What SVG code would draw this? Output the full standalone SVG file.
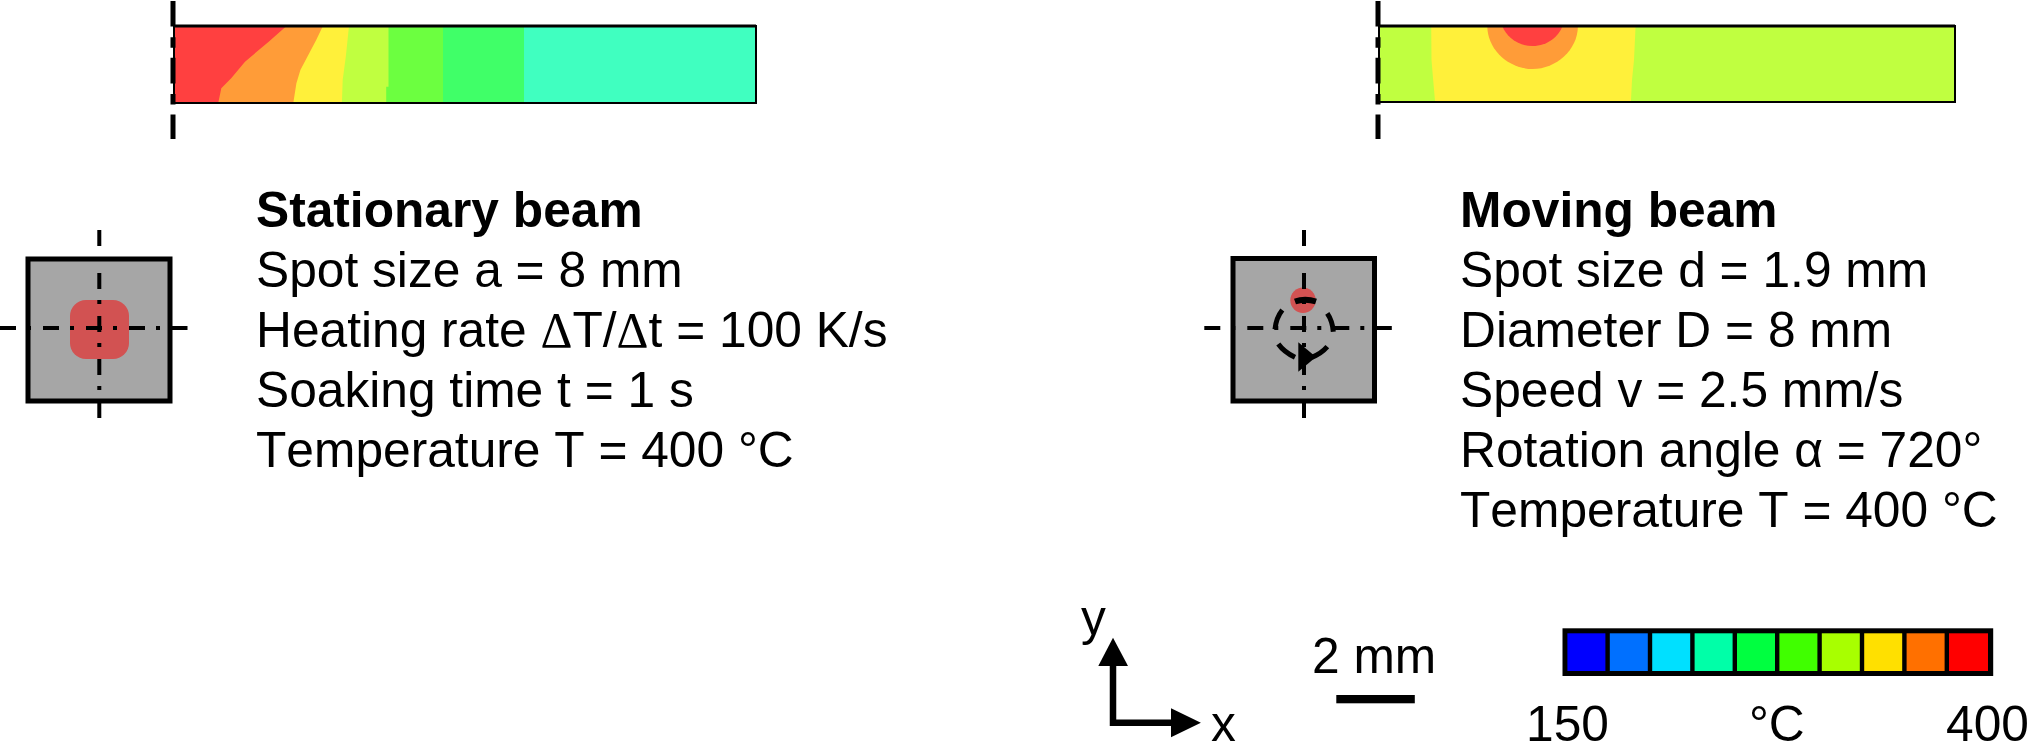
<svg xmlns="http://www.w3.org/2000/svg" width="2029" height="743" viewBox="0 0 2029 743">
<style>
text{font-family:"Liberation Sans",Arial,sans-serif;font-size:49.700px;font-kerning:none;fill:#000}
.b{font-weight:bold}
.d{font-family:"Liberation Serif","Times New Roman",serif}
.cl{fill:none;stroke:#000;stroke-width:4;stroke-dasharray:16 11 4 12}
.sym{fill:none;stroke:#000;stroke-width:5;stroke-dasharray:25.6 10.6 10.6 10}
.frame{fill:none;stroke:#000;stroke-width:2}
.sq{fill:#a6a6a6;stroke:#000;stroke-width:5}
.spot{fill:#d25252}
.arc{fill:none;stroke:#000;stroke-width:5}
.axis{fill:none;stroke:#000;stroke-width:6.5}
</style>
<rect width="2029" height="743" fill="#fff"/>
<g id="field-stationary">
<rect x="174" y="26" width="582" height="77" fill="#40ffc0"/>
<rect x="174" y="26" width="350" height="77" fill="#40ff68"/>
<rect x="174" y="26" width="269" height="77" fill="#6cff40"/>
<path d="M174 26H388.5V86.7H386.2V103H174Z" fill="#c0ff40"/>
<path d="M174 26H349L345.8 56.7L342.7 80L341.9 103H174Z" fill="#fff03a"/>
<path d="M174 26H322.9L316.2 40L308.3 55L300.4 70L296.4 83.3L293.3 103H174Z" fill="#ff9c38"/>
<path d="M174 26H286.5L268.7 41.7L245 61.7L231.2 78.3L221.3 88.3L218.5 101.7L217 103H174Z" fill="#ff4040"/>
<rect class="frame" x="174" y="26" width="582" height="77"/>
<path d="M174 26H756" fill="none" stroke="#000" stroke-width="3"/>
<path class="sym" d="M173 1V139"/>
</g>
<g id="field-moving">
<rect x="1379" y="26" width="576" height="76" fill="#c0ff40"/>
<path d="M1431.2 26H1635.6L1634 60L1632 80L1630.9 102H1435.1L1433 78L1431.5 60Z" fill="#fff03a"/>
<path d="M1487.3 26H1577.9C1577.9 50 1556 69 1532.6 69C1509 69 1487.3 50 1487.3 26Z" fill="#ff9c38"/>
<path d="M1502.3 26H1562.5C1559 36 1548 46 1532.4 46C1517 46 1506 36 1502.3 26Z" fill="#ff4040"/>
<rect class="frame" x="1379" y="26" width="576" height="76"/>
<path d="M1379 26H1955" fill="none" stroke="#000" stroke-width="3"/>
<path class="sym" d="M1378 1V139"/>
</g>
<g id="spot-stationary">
<rect class="sq" x="28" y="259" width="142" height="142"/>
<rect class="spot" x="70" y="300" width="59" height="59" rx="16"/>
<path class="cl" d="M99.3 230V418"/>
<path class="cl" d="M0 328H187.5"/>
</g>
<g id="spot-moving">
<rect class="sq" x="1233" y="258.500" width="141.500" height="142.500"/>
<circle class="spot" cx="1303" cy="300.300" r="12.700"/>
<path class="cl" d="M1304 230V418"/>
<path class="cl" d="M1204.300 328H1391.800"/>
<path class="arc" d="M1282.300 310Q1276 318 1275 329.300"/>
<path class="arc" d="M1327.300 313.300Q1332.500 321 1333.300 331.700"/>
<path class="arc" d="M1278.300 344Q1284 352 1295 357.300"/>
<path class="arc" d="M1311.700 357.300Q1321 354 1327.300 346.700"/>
<path d="M1295 301.500Q1305 298 1316 301.500" fill="none" stroke="#000" stroke-width="6"/>
<path d="M1298.300 342.300V371.700L1316 357Z" fill="#000"/>
</g>
<g id="text-stationary">
<text class="b" x="256" y="227">Stationary beam</text>
<text x="256" y="287">Spot size a = 8 mm</text>
<text x="256" y="347">Heating rate <tspan class="d">Δ</tspan>T/<tspan class="d">Δ</tspan>t = 100 K/s</text>
<text x="256" y="407">Soaking time t = 1 s</text>
<text x="256" y="467">Temperature T = 400 °C</text>
</g>
<g id="text-moving">
<text class="b" x="1460" y="227">Moving beam</text>
<text x="1460" y="287">Spot size d = 1.9 mm</text>
<text x="1460" y="347">Diameter D = 8 mm</text>
<text x="1460" y="407">Speed v = 2.5 mm/s</text>
<text x="1460" y="467">Rotation angle α = 720°</text>
<text x="1460" y="527">Temperature T = 400 °C</text>
</g>
<g id="axes">
<path class="axis" d="M1113 666V722.700H1172"/>
<path d="M1113 637.700L1128 666H1098.300Z" fill="#000"/>
<path d="M1200.900 722.700L1171 737.300V708.300Z" fill="#000"/>
<text x="1081" y="635">y</text>
<text x="1211" y="741">x</text>
</g>
<g id="scale">
<text x="1312" y="673">2 mm</text>
<rect x="1336.300" y="695" width="78.500" height="8.300" fill="#000"/>
</g>
<g id="legend">
<rect x="1562.500" y="628.300" width="430.700" height="47.700" fill="#000"/>
<rect x="1567.400" y="633.300" width="38" height="37.700" fill="#0000ff"/>
<rect x="1609.800" y="633.300" width="38" height="37.700" fill="#0070ff"/>
<rect x="1652.200" y="633.300" width="38" height="37.700" fill="#00e0ff"/>
<rect x="1694.600" y="633.300" width="38" height="37.700" fill="#00ffa8"/>
<rect x="1737" y="633.300" width="38" height="37.700" fill="#00ff40"/>
<rect x="1779.400" y="633.300" width="38" height="37.700" fill="#40ff00"/>
<rect x="1821.800" y="633.300" width="38" height="37.700" fill="#a8ff00"/>
<rect x="1864.200" y="633.300" width="38" height="37.700" fill="#ffe000"/>
<rect x="1906.600" y="633.300" width="38" height="37.700" fill="#ff7000"/>
<rect x="1949" y="633.300" width="39" height="37.700" fill="#ff0000"/>
<text x="1526" y="741">150</text>
<text x="1749" y="741">°C</text>
<text x="1946" y="741">400</text>
</g>
</svg>
